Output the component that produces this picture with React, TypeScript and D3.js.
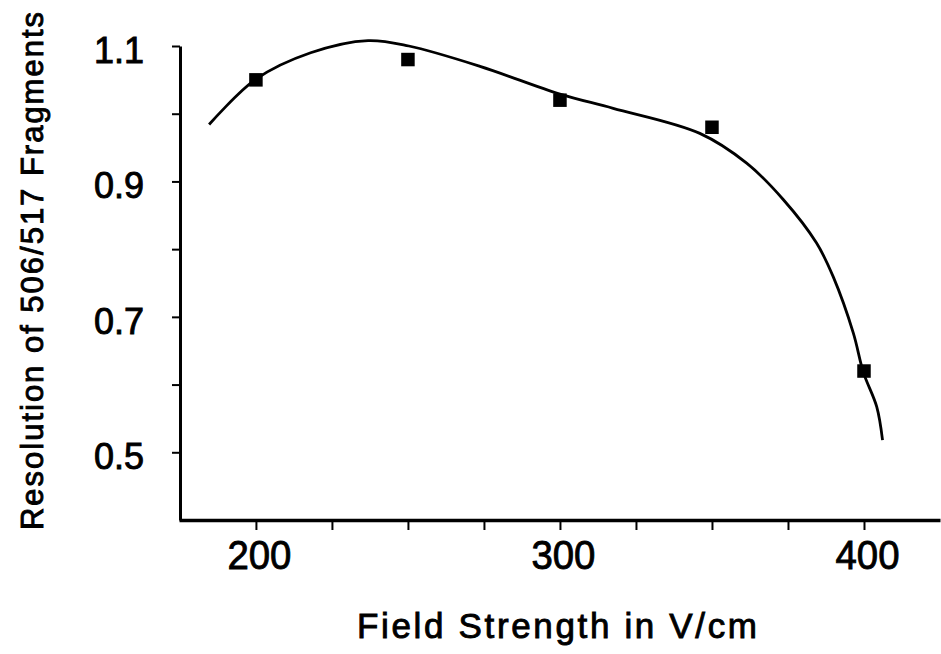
import { useRef, useEffect } from "react";
import * as d3 from "d3";

// measured points (field strength, resolution)
const fieldStrength = [200, 250, 300, 350, 400];
const resolution = [1.05, 1.08, 1.02, 0.98, 0.62];

// fitted curve as drawn in the figure
const curveX = [184.6, 200, 218, 236.9, 250.3, 273.7, 300, 317.5, 346, 361.4, 373.5, 384.4, 389.9, 396.5, 399.8, 404.2, 406.1];
const curveY = [0.984, 1.051, 1.09, 1.108, 1.1, 1.07, 1.029, 1.008, 0.971, 0.927, 0.873, 0.809, 0.759, 0.676, 0.618, 0.567, 0.518];

const xTicks = [200, 225, 250, 275, 300, 325, 350, 375, 400];
const xLabels = [200, 300, 400];
const yTicks = [0.5, 0.6, 0.7, 0.8, 0.9, 1.0, 1.1];
const yLabels = [0.5, 0.7, 0.9, 1.1];

const FONT = "'Liberation Sans', Arial, Helvetica, sans-serif";

function App() {
  const svgRef = useRef<SVGSVGElement>(null);

  useEffect(() => {
    const w = 941;
    const h = 654;
    const svg = d3.select(svgRef.current).attr("width", w).attr("height", h);
    svg.selectAll("*").remove();

    const x = d3.scaleLinear().domain([174.7, 425]).range([179, 940]);
    const y = d3.scaleLinear().domain([0.4, 1.1]).range([520, 46]);

    // x axis
    const xAxis = d3
      .axisBottom(x)
      .tickValues(xTicks)
      .tickSize(10)
      .tickSizeOuter(0)
      .tickFormat((d) => (xLabels.includes(+d) ? String(d) : ""));
    const gx = svg.append("g").attr("transform", "translate(0,520)").call(xAxis);
    gx.select(".domain").attr("stroke", "#000").attr("stroke-width", 3.5);
    gx.selectAll(".tick line").attr("stroke", "#000").attr("stroke-width", 2);
    gx.selectAll(".tick text")
      .attr("y", 49)
      .attr("dy", 0)
      .attr("dx", 3)
      .attr("textLength", (d: any) => (xLabels.includes(+d) ? 64 : null))
      .attr("lengthAdjust", "spacingAndGlyphs")
      .style("font-family", FONT)
      .style("font-size", "41px")
      .attr("fill", "#000")
      .attr("stroke", "#000")
      .attr("stroke-width", 0.9);

    // y axis
    const yAxis = d3
      .axisLeft(y)
      .tickValues(yTicks)
      .tickSize(8)
      .tickSizeOuter(0)
      .tickFormat((d) => (yLabels.some((v) => Math.abs(v - +d) < 1e-9) ? d3.format(".1f")(+d) : ""));
    const gy = svg.append("g").attr("transform", "translate(180,0)").call(yAxis);
    gy.select(".domain").attr("stroke", "#000").attr("stroke-width", 3);
    gy.selectAll(".tick line").attr("stroke", "#000").attr("stroke-width", 2);
    gy.selectAll(".tick text")
      .attr("x", -36)
      .attr("dy", "0.45em")
      .style("font-family", FONT)
      .style("font-size", "36px")
      .attr("fill", "#000")
      .attr("stroke", "#000")
      .attr("stroke-width", 0.9);

    // curve
    const line = d3
      .line<number>()
      .x((d, i) => x(curveX[i]))
      .y((d) => y(d))
      .curve(d3.curveCatmullRom.alpha(0.5));
    svg
      .append("path")
      .datum(curveY)
      .attr("d", line)
      .attr("fill", "none")
      .attr("stroke", "#000")
      .attr("stroke-width", 2.8);

    // markers
    const s = 13.5;
    svg
      .selectAll(".pt")
      .data(resolution)
      .join("rect")
      .attr("x", (d, i) => x(fieldStrength[i]) - s / 2)
      .attr("y", (d) => y(d) - s / 2)
      .attr("width", s)
      .attr("height", s)
      .attr("fill", "#000");

    // axis titles
    svg
      .append("text")
      .attr("x", 557)
      .attr("y", 638)
      .attr("text-anchor", "middle")
      .attr("textLength", 400)
      .attr("lengthAdjust", "spacing")
      .style("font-family", FONT)
      .style("font-size", "35px")
      .attr("stroke", "#000")
      .attr("stroke-width", 0.9)
      .text("Field Strength in V/cm");

    svg
      .append("text")
      .attr("transform", "translate(43,271) rotate(-90)")
      .attr("text-anchor", "middle")
      .attr("textLength", 518)
      .attr("lengthAdjust", "spacing")
      .style("font-family", FONT)
      .style("font-size", "31px")
      .attr("stroke", "#000")
      .attr("stroke-width", 0.9)
      .text("Resolution of 506/517 Fragments");
  }, []);

  return <svg ref={svgRef} style={{ position: "absolute", left: 0, top: 0, background: "#fff" }}></svg>;
}

export default App;
